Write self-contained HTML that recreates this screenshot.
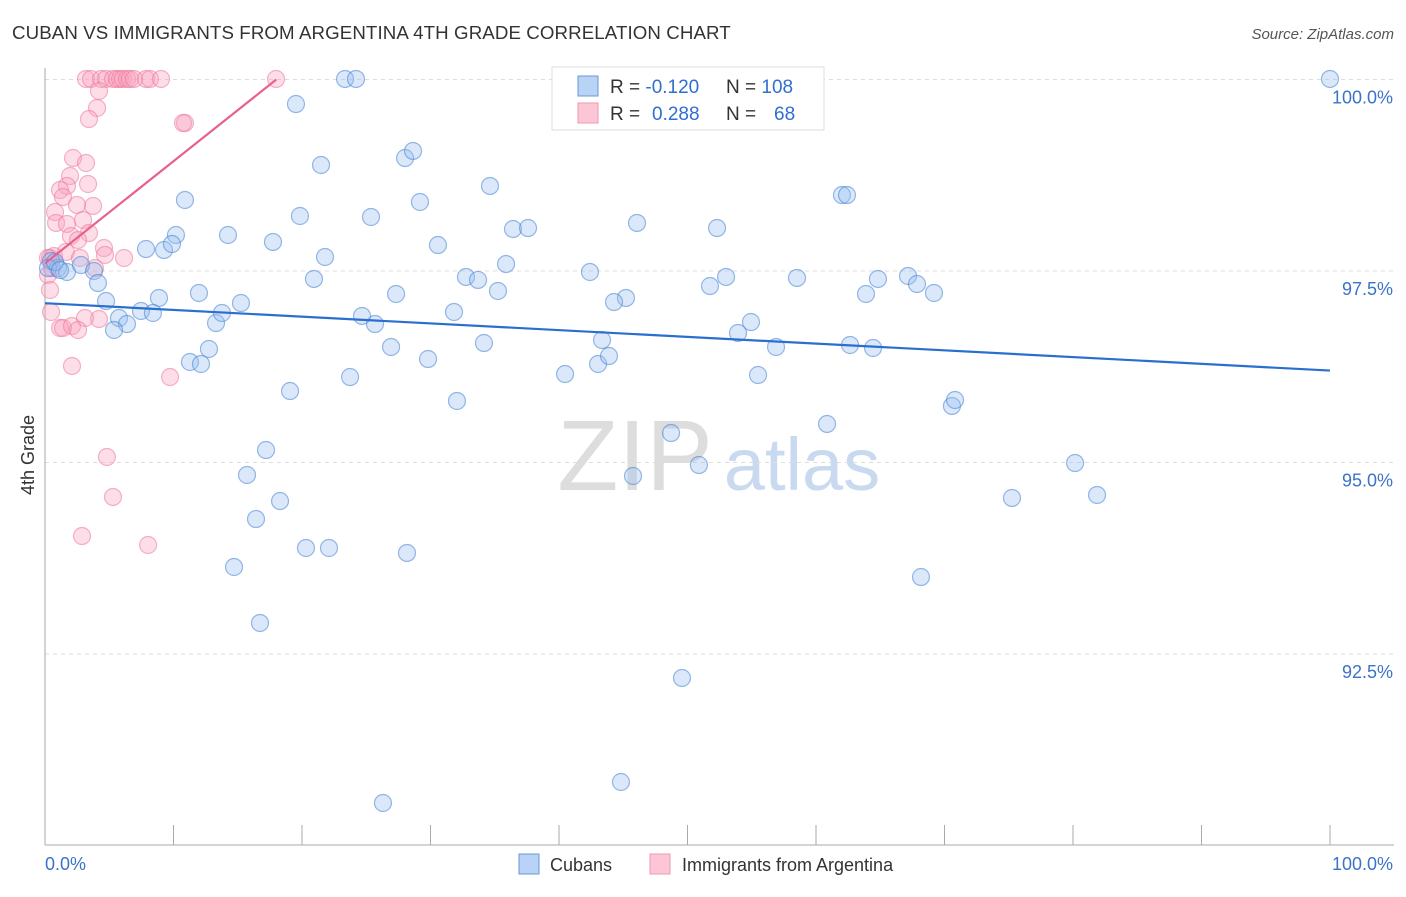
<!DOCTYPE html>
<html><head><meta charset="utf-8">
<style>
body{margin:0;background:#fff;font-family:"Liberation Sans",sans-serif;}
svg text{font-family:"Liberation Sans",sans-serif;}
</style></head>
<body>
<svg id="chart" width="1406" height="892" xmlns="http://www.w3.org/2000/svg">
<text x="12" y="39" font-size="18.7" fill="#333" letter-spacing="0.1">CUBAN VS IMMIGRANTS FROM ARGENTINA 4TH GRADE CORRELATION CHART</text>
<text x="1394" y="39" font-size="15" fill="#555" text-anchor="end" font-style="italic">Source: ZipAtlas.com</text>
<g>
<text x="635" y="490" font-size="100" fill="#ddd" font-family="Liberation Serif,serif" text-anchor="middle">ZIP</text>
<text x="802" y="490" font-size="74" fill="#c9daf0" text-anchor="middle">atlas</text>
</g>
<g id="grid"></g>
<g id="axes"></g>
<g id="points"></g>
<g id="trends"></g>
<text transform="translate(34,455) rotate(-90)" font-size="18" fill="#333" text-anchor="middle">4th Grade</text>
<g>
<rect x="552" y="67" width="272" height="63" fill="#fff" stroke="#ddd"/>
<rect x="578" y="76" width="20" height="20" fill="#b8d3f5" stroke="#6a9ad8"/>
<rect x="578" y="103" width="20" height="20" fill="#fcc6d6" stroke="#ee9ab3"/>
<text x="610" y="93" font-size="19" fill="#333">R = <tspan fill="#2f6fd0">-0.120</tspan><tspan x="726">N = </tspan><tspan fill="#2f6fd0">108</tspan></text>
<text x="610" y="120" font-size="19" fill="#333">R = <tspan fill="#2f6fd0" x="652">0.288</tspan><tspan x="726">N = </tspan><tspan fill="#2f6fd0" x="774">68</tspan></text>
</g>
<g>
<rect x="519" y="854" width="20" height="20" fill="#b8d3f5" stroke="#6a9ad8"/>
<text x="550" y="871" font-size="18" fill="#333">Cubans</text>
<rect x="650" y="854" width="20" height="20" fill="#fcc6d6" stroke="#ee9ab3"/>
<text x="682" y="871" font-size="18" fill="#333">Immigrants from Argentina</text>
</g>
</svg>
<script>
const yTicks=[100,97.5,95,92.5];
const yTickLabels=["100.0%","97.5%","95.0%","92.5%"];
const xTickLabels=["0.0%","100.0%"];
const cubanPx=[[345,79],[356,79],[1330,79],[296,104],[321,165],[405,158],[413,151],[490,186],[185,200],[420,202],[300,216],[371,217],[637,223],[842,195],[847,195],[717,228],[513,229],[528,228],[228,235],[176,235],[146,249],[164,250],[172,244],[273,242],[438,245],[325,257],[314,279],[506,264],[466,277],[478,280],[498,291],[590,272],[726,277],[710,286],[797,278],[878,279],[908,276],[917,284],[866,294],[934,293],[626,298],[614,302],[396,294],[241,303],[199,293],[159,298],[106,301],[51,261],[58,268],[67,272],[81,265],[94,271],[98,283],[119,318],[127,324],[114,330],[141,311],[153,313],[216,323],[222,313],[375,324],[362,316],[454,312],[484,343],[391,347],[428,359],[602,340],[751,322],[738,333],[776,347],[850,345],[873,348],[209,349],[190,362],[201,364],[350,377],[565,374],[598,364],[609,356],[758,375],[290,391],[457,401],[952,406],[955,400],[827,424],[671,433],[266,450],[247,475],[633,476],[699,465],[1075,463],[280,501],[1012,498],[1097,495],[256,519],[306,548],[329,548],[407,553],[234,567],[921,577],[260,623],[682,678],[621,782],[383,803],[48,268],[55,262],[60,270]];
const argPx=[[86,79],[91,79],[101,79],[106,79],[113,79],[117,79],[120,79],[123,79],[127,79],[130,79],[134,79],[146,79],[150,79],[161,79],[276,79],[99,91],[97,108],[89,119],[185,123],[183,123],[73,158],[86,163],[70,176],[88,184],[67,186],[60,190],[63,197],[77,205],[93,206],[55,212],[56,223],[67,224],[83,220],[71,236],[89,233],[78,240],[50,258],[54,256],[66,252],[104,248],[105,255],[124,258],[80,258],[95,268],[48,275],[50,290],[51,312],[60,328],[63,328],[72,326],[99,319],[85,318],[78,330],[72,366],[170,377],[107,457],[113,497],[82,536],[148,545],[48,258],[52,268]];
// data values (x in %, y in %) derived from reading the picture
const cubanX=cubanPx.map(p=>+((p[0]-45)/12.85).toFixed(2));
const cubanY=cubanPx.map(p=>+(100-(p[1]-79.5)*2.5/191.5).toFixed(3));
const argX=argPx.map(p=>+((p[0]-45)/12.85).toFixed(2));
const argY=argPx.map(p=>+(100-(p[1]-79.5)*2.5/191.5).toFixed(3));
const cubanTrend=[[0,97.08],[100,96.2]];
const argTrend=[[0,97.6],[18,100]];

const NS="http://www.w3.org/2000/svg";
const X=v=>45+v*12.85;
const Y=v=>79.5+(100-v)*191.5/2.5;
function mk(t,a,p){const e=document.createElementNS(NS,t);for(const k in a)e.setAttribute(k,a[k]);p.appendChild(e);return e;}
const grid=document.getElementById('grid'),axes=document.getElementById('axes'),pts=document.getElementById('points'),tr=document.getElementById('trends');
yTicks.forEach((t,i)=>{
 const l=mk('line',{x1:45,x2:1394,y1:Y(t),y2:Y(t),stroke:'#ddd','stroke-dasharray':'4,4'},grid);
 
 
 const tx=mk('text',{x:1393,y:Y(t)+24,'font-size':18,fill:'#3b73c9','text-anchor':'end'},axes);
 tx.textContent=yTickLabels[i];
 
 
});
const ax=mk('line',{x1:45,x2:45,y1:68,y2:845,stroke:'#aaa'},axes);


const bx=mk('line',{x1:45,x2:1394,y1:845,y2:845,stroke:'#aaa'},axes);


for(let i=0;i<=10;i++){
 const t=mk('line',{x1:X(i*10),x2:X(i*10),y1:825,y2:845,stroke:'#aaa'},axes);
 
 
}
[[0,'start',45],[100,'end',1393]].forEach((d,i)=>{
 const t=mk('text',{x:d[2],y:870,'font-size':18,fill:'#3b73c9','text-anchor':d[1]},axes);
 t.textContent=xTickLabels[i];
 
 
});
argX.forEach((x,i)=>{
 const c=mk('circle',{cx:X(x),cy:Y(argY[i]),r:8.5,fill:'rgba(248,160,188,0.35)',stroke:'rgba(236,120,155,0.55)','stroke-width':1.2},pts);
 
 
});
cubanX.forEach((x,i)=>{
 const c=mk('circle',{cx:X(x),cy:Y(cubanY[i]),r:8.5,fill:'rgba(150,190,240,0.35)',stroke:'rgba(70,130,210,0.55)','stroke-width':1.2},pts);
 
 
});
const l1=mk('line',{x1:X(cubanTrend[0][0]),y1:Y(cubanTrend[0][1]),x2:X(cubanTrend[1][0]),y2:Y(cubanTrend[1][1]),stroke:'#2a6fd0','stroke-width':2.2},tr);


const l2=mk('line',{x1:X(argTrend[0][0]),y1:Y(argTrend[0][1]),x2:X(argTrend[1][0]),y2:Y(argTrend[1][1]),stroke:'#e8618c','stroke-width':2.2},tr);


</script>
</body></html>
